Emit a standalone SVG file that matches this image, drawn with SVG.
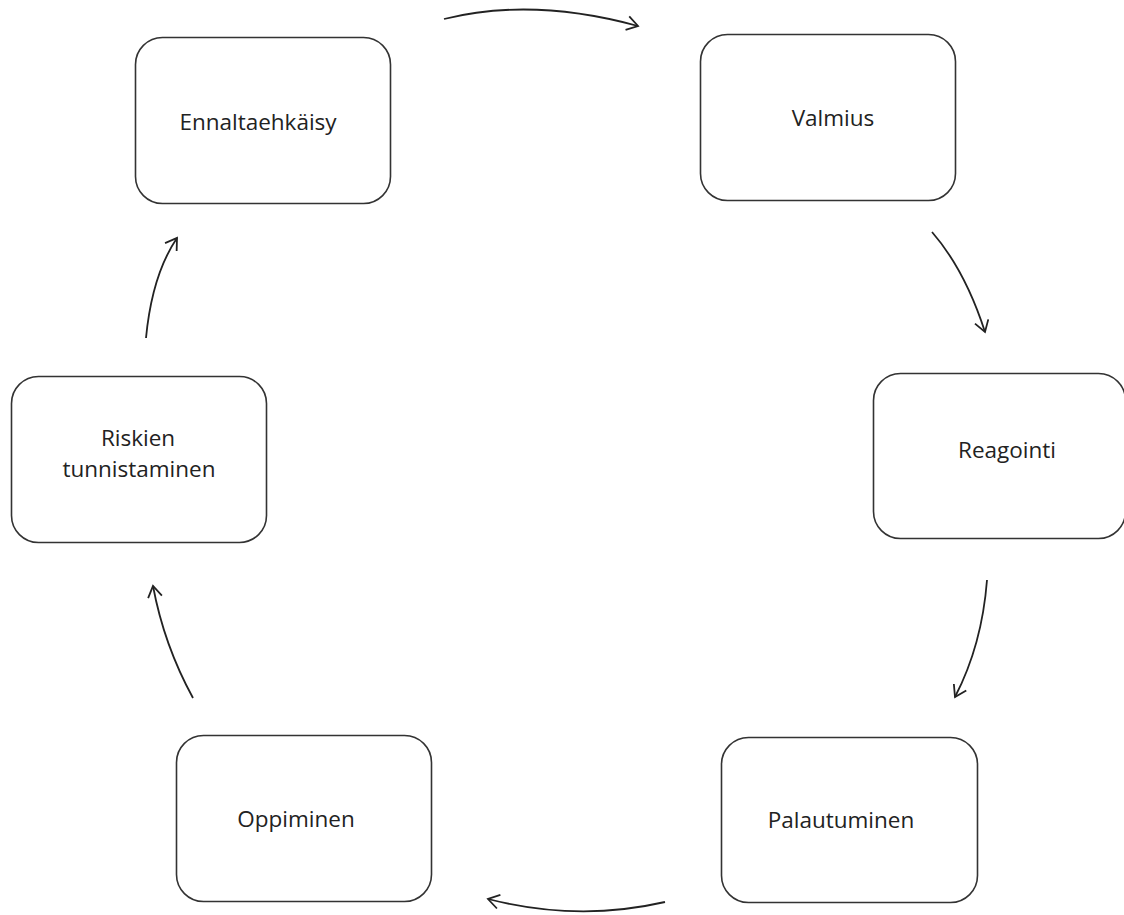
<svg xmlns="http://www.w3.org/2000/svg" width="1124" height="915" viewBox="0 0 1124 915">
<style>
.box{fill:#fff;stroke:#333;stroke-width:1.6}
.lbl{font-family:"Open Sans","Noto Sans",sans-serif;font-size:22.5px;fill:#222;text-anchor:middle}
.con{fill:none;stroke:#222;stroke-width:1.8;marker-end:url(#ah)}
</style>
<defs>
<marker id="ah" viewBox="-12 -8 14 16" refX="0" refY="0" markerWidth="14" markerHeight="16" markerUnits="userSpaceOnUse" orient="auto">
<polyline points="-11,-7 0,0 -11,7" fill="none" stroke="#222" stroke-width="1.8"/>
</marker>
</defs>
<rect width="1124" height="915" fill="#fff"/>
<g id="connectors">
<path class="con" d="M444,19 Q532,-3 638,26"/>
<path class="con" d="M932,232 Q965,270 985,332"/>
<path class="con" d="M987,580 Q982,645 955,697"/>
<path class="con" d="M665,902 Q578,922 488,899"/>
<path class="con" d="M193,698 Q164,645 153,586"/>
<path class="con" d="M146,338 Q152,275 177,238"/>
</g>
<g id="n1"><rect class="box" x="135.5" y="37.5" width="255" height="166" rx="27"/><text class="lbl" x="258" y="130">Ennaltaehkäisy</text></g>
<g id="n2"><rect class="box" x="700.5" y="34.5" width="255" height="166" rx="27"/><text class="lbl" x="833" y="126">Valmius</text></g>
<g id="n3"><rect class="box" x="873.5" y="373.5" width="252" height="165" rx="27"/><text class="lbl" x="1007" y="458">Reagointi</text></g>
<g id="n4"><rect class="box" x="721.5" y="737.5" width="256" height="165" rx="27"/><text class="lbl" x="841" y="828">Palautuminen</text></g>
<g id="n5"><rect class="box" x="176.5" y="735.5" width="255" height="166" rx="27"/><text class="lbl" x="296" y="827">Oppiminen</text></g>
<g id="n6"><rect class="box" x="11.5" y="376.5" width="255" height="166" rx="27"/><text class="lbl" x="138" y="446">Riskien</text><text class="lbl" x="139" y="477">tunnistaminen</text></g>
</svg>
